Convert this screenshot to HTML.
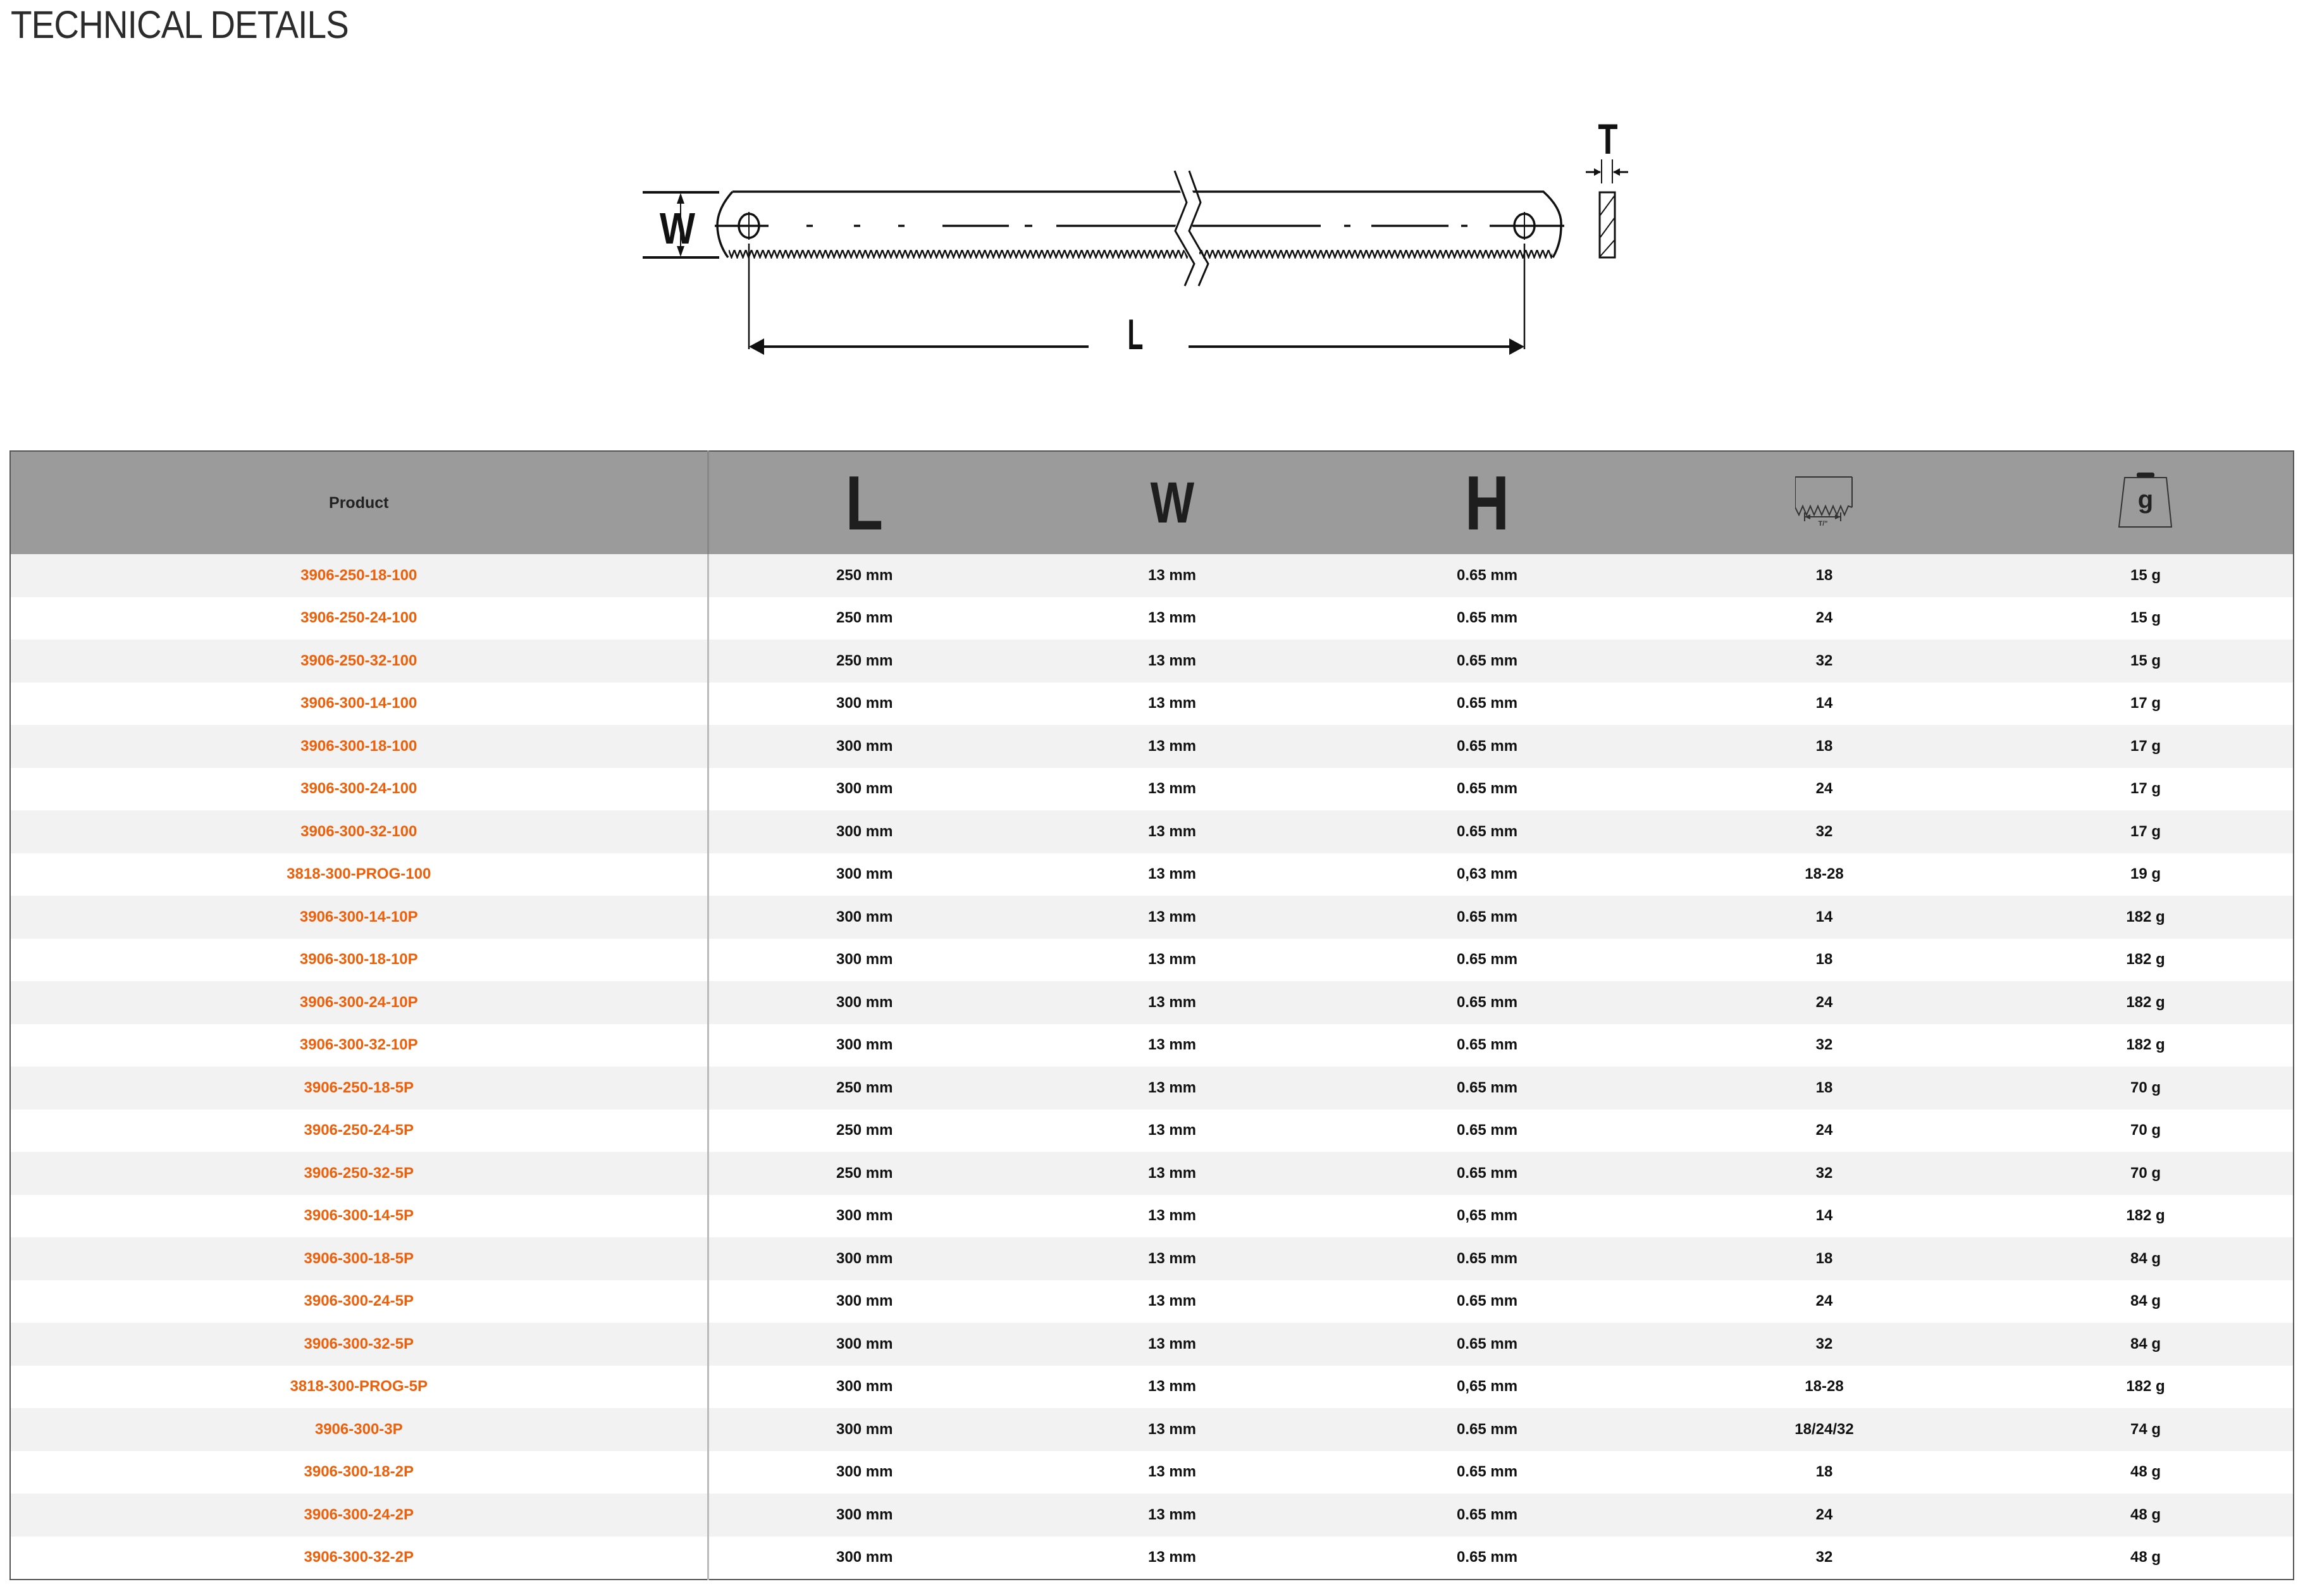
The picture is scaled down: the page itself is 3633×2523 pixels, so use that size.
<!DOCTYPE html>
<html><head><meta charset="utf-8">
<style>
html,body{margin:0;padding:0;background:#fff;}
body{width:3633px;height:2523px;position:relative;overflow:hidden;font-family:"Liberation Sans",Arial,sans-serif;}
#title{position:absolute;left:17px;top:4px;font-size:61px;color:#2b2b2b;font-weight:normal;transform:scaleX(0.9);transform-origin:0 0;white-space:nowrap;letter-spacing:-1px;}
#dr{position:absolute;left:0;top:0;}
table{position:absolute;left:15px;top:712px;width:3610px;border-collapse:collapse;table-layout:fixed;border:2px solid #555;}
td,th{padding:0;text-align:center;font-weight:bold;font-size:24px;color:#111;height:67.5px;}
th{background:#9b9b9b;height:162px;font-size:25px;color:#222;}
tr:nth-child(even) td{background:#f2f2f2;}
td.p{color:#ee5f0a;border-right:3px solid #bbb;}
th.p{border-right:3px solid #888;}
.big{font-size:122px;color:#1e1e1e;display:inline-block;transform:scaleX(0.8);line-height:1;}
</style></head><body>
<div id="title">TECHNICAL DETAILS</div>
<svg id="dr" width="3633" height="700" viewBox="0 0 3633 700">
<defs>
<pattern id="teeth" x="0" y="395" width="9" height="14" patternUnits="userSpaceOnUse">
<polyline points="0,0 4.5,12 9,0" fill="none" stroke="#111" stroke-width="2.5"/>
</pattern>
</defs>
<g stroke="#111" fill="none" stroke-width="3.5">
<line x1="1016" y1="304" x2="1137" y2="304" stroke-width="4"/>
<line x1="1016" y1="407" x2="1137" y2="407" stroke-width="4"/>
<line x1="1076" y1="308" x2="1076" y2="403" stroke-width="2"/>
<path d="M1158,303 L2440,303 Q2470,330 2468,357 Q2468,385 2455,407 M1151,407 Q1135,385 1134,357 Q1134,330 1158,303" />
<g stroke-width="3.5">
<line x1="1130" y1="357" x2="1215" y2="357"/>
<line x1="1275" y1="357" x2="1285" y2="357"/>
<line x1="1350" y1="357" x2="1360" y2="357"/>
<line x1="1420" y1="357" x2="1430" y2="357"/>
<line x1="1490" y1="357" x2="1595" y2="357"/>
<line x1="1620" y1="357" x2="1632" y2="357"/>
<line x1="1670" y1="357" x2="1870" y2="357"/>
<line x1="1885" y1="357" x2="2088" y2="357"/>
<line x1="2125" y1="357" x2="2135" y2="357"/>
<line x1="2168" y1="357" x2="2290" y2="357"/>
<line x1="2310" y1="357" x2="2320" y2="357"/>
<line x1="2355" y1="357" x2="2473" y2="357"/>
</g>
<ellipse cx="1184" cy="357" rx="16" ry="19"/>
<ellipse cx="2410" cy="357" rx="16" ry="19"/>
<line x1="1184" y1="335" x2="1184" y2="379" stroke-width="2"/>
<line x1="2410" y1="335" x2="2410" y2="379" stroke-width="2"/>
<line x1="1184" y1="385" x2="1184" y2="552" stroke-width="2.5"/>
<line x1="2410" y1="385" x2="2410" y2="552" stroke-width="2.5"/>
<line x1="1195" y1="548" x2="1721" y2="548" stroke-width="4"/>
<line x1="1879" y1="548" x2="2398" y2="548" stroke-width="4"/>
</g>
<rect x="1152" y="395" width="1302" height="14" fill="url(#teeth)"/>
<path d="M1862,270 L1883,320 L1865,365 L1895,417 L1880,452" stroke="#fff" stroke-width="18" fill="none"/>
<path d="M1857,270 L1876,320 L1858,365 L1888,417 L1873,452" stroke="#111" stroke-width="3" fill="none"/>
<path d="M1880,270 L1898,320 L1880,365 L1910,417 L1895,452" stroke="#111" stroke-width="3" fill="none"/>
<polygon points="1184,548 1208,535 1208,561" fill="#111"/>
<polygon points="2410,548 2386,535 2386,561" fill="#111"/>
<polygon points="1076,305 1070,322 1082,322" fill="#111"/>
<polygon points="1076,406 1070,389 1082,389" fill="#111"/>
<text x="1071" y="385" font-family="Liberation Sans" font-weight="bold" font-size="70" text-anchor="middle" fill="#111" transform="translate(1071 0) scale(0.85 1) translate(-1071 0)">W</text>
<text x="1795" y="552" font-family="Liberation Sans" font-weight="bold" font-size="68" text-anchor="middle" fill="#111" transform="translate(1795 0) scale(0.6 1) translate(-1795 0)">L</text>
<text x="2542" y="243" font-family="Liberation Sans" font-weight="bold" font-size="68" text-anchor="middle" fill="#111" transform="translate(2542 0) scale(0.75 1) translate(-2542 0)">T</text>
<line x1="2532" y1="252" x2="2532" y2="290" stroke="#111" stroke-width="2"/>
<line x1="2549" y1="252" x2="2549" y2="290" stroke="#111" stroke-width="2"/>
<line x1="2507" y1="272" x2="2530" y2="272" stroke="#111" stroke-width="3"/>
<line x1="2551" y1="272" x2="2574" y2="272" stroke="#111" stroke-width="3"/>
<polygon points="2531,272 2520,266 2520,278" fill="#111"/>
<polygon points="2550,272 2561,266 2561,278" fill="#111"/>
<rect x="2529" y="304" width="24" height="103" fill="none" stroke="#111" stroke-width="3"/>
<path d="M2530,340 L2552,310 M2530,375 L2552,345 M2530,405 L2552,380" stroke="#111" stroke-width="2" fill="none"/>
</svg>

<table>
<colgroup><col style="width:1103px"><col style="width:494px"><col style="width:480px"><col style="width:516px"><col style="width:550px"><col style="width:467px"></colgroup>
<tr><th class="p">Product</th>
<th><span class="big">L</span></th>
<th><span class="big" style="font-size:92px">W</span></th>
<th><span class="big">H</span></th>
<th><svg width="92" height="80" viewBox="0 0 92 80"><g fill="none" stroke="#333" stroke-width="2"><line x1="0" y1="2" x2="90" y2="2"/><line x1="0" y1="2" x2="0" y2="50"/><line x1="90" y1="2" x2="90" y2="50"/><polyline points="0,50 6,62 12,48 18,62 24,48 30,62 36,48 42,62 48,48 54,62 60,48 66,62 72,48 78,62 84,48 90,50"/><line x1="15" y1="58" x2="15" y2="72"/><line x1="72" y1="58" x2="72" y2="72"/><line x1="15" y1="65" x2="72" y2="65"/></g><polygon points="15,65 24,61 24,69" fill="#333"/><polygon points="72,65 63,61 63,69" fill="#333"/><text x="44" y="79" font-size="11" fill="#333" text-anchor="middle" font-family="Liberation Sans">T/"</text></svg></th>
<th><svg width="90" height="90" viewBox="0 0 90 90"><rect x="31" y="0" width="28" height="8" rx="3" fill="#222"/><path d="M12,8 L78,8 L86,86 L3,86 Z" fill="none" stroke="#333" stroke-width="2"/><text x="45" y="56" font-size="40" font-weight="bold" fill="#222" text-anchor="middle" font-family="Liberation Sans">g</text></svg></th></tr>
<tr><td class="p">3906-250-18-100</td><td>250 mm</td><td>13 mm</td><td>0.65 mm</td><td>18</td><td>15 g</td></tr>
<tr><td class="p">3906-250-24-100</td><td>250 mm</td><td>13 mm</td><td>0.65 mm</td><td>24</td><td>15 g</td></tr>
<tr><td class="p">3906-250-32-100</td><td>250 mm</td><td>13 mm</td><td>0.65 mm</td><td>32</td><td>15 g</td></tr>
<tr><td class="p">3906-300-14-100</td><td>300 mm</td><td>13 mm</td><td>0.65 mm</td><td>14</td><td>17 g</td></tr>
<tr><td class="p">3906-300-18-100</td><td>300 mm</td><td>13 mm</td><td>0.65 mm</td><td>18</td><td>17 g</td></tr>
<tr><td class="p">3906-300-24-100</td><td>300 mm</td><td>13 mm</td><td>0.65 mm</td><td>24</td><td>17 g</td></tr>
<tr><td class="p">3906-300-32-100</td><td>300 mm</td><td>13 mm</td><td>0.65 mm</td><td>32</td><td>17 g</td></tr>
<tr><td class="p">3818-300-PROG-100</td><td>300 mm</td><td>13 mm</td><td>0,63 mm</td><td>18-28</td><td>19 g</td></tr>
<tr><td class="p">3906-300-14-10P</td><td>300 mm</td><td>13 mm</td><td>0.65 mm</td><td>14</td><td>182 g</td></tr>
<tr><td class="p">3906-300-18-10P</td><td>300 mm</td><td>13 mm</td><td>0.65 mm</td><td>18</td><td>182 g</td></tr>
<tr><td class="p">3906-300-24-10P</td><td>300 mm</td><td>13 mm</td><td>0.65 mm</td><td>24</td><td>182 g</td></tr>
<tr><td class="p">3906-300-32-10P</td><td>300 mm</td><td>13 mm</td><td>0.65 mm</td><td>32</td><td>182 g</td></tr>
<tr><td class="p">3906-250-18-5P</td><td>250 mm</td><td>13 mm</td><td>0.65 mm</td><td>18</td><td>70 g</td></tr>
<tr><td class="p">3906-250-24-5P</td><td>250 mm</td><td>13 mm</td><td>0.65 mm</td><td>24</td><td>70 g</td></tr>
<tr><td class="p">3906-250-32-5P</td><td>250 mm</td><td>13 mm</td><td>0.65 mm</td><td>32</td><td>70 g</td></tr>
<tr><td class="p">3906-300-14-5P</td><td>300 mm</td><td>13 mm</td><td>0,65 mm</td><td>14</td><td>182 g</td></tr>
<tr><td class="p">3906-300-18-5P</td><td>300 mm</td><td>13 mm</td><td>0.65 mm</td><td>18</td><td>84 g</td></tr>
<tr><td class="p">3906-300-24-5P</td><td>300 mm</td><td>13 mm</td><td>0.65 mm</td><td>24</td><td>84 g</td></tr>
<tr><td class="p">3906-300-32-5P</td><td>300 mm</td><td>13 mm</td><td>0.65 mm</td><td>32</td><td>84 g</td></tr>
<tr><td class="p">3818-300-PROG-5P</td><td>300 mm</td><td>13 mm</td><td>0,65 mm</td><td>18-28</td><td>182 g</td></tr>
<tr><td class="p">3906-300-3P</td><td>300 mm</td><td>13 mm</td><td>0.65 mm</td><td>18/24/32</td><td>74 g</td></tr>
<tr><td class="p">3906-300-18-2P</td><td>300 mm</td><td>13 mm</td><td>0.65 mm</td><td>18</td><td>48 g</td></tr>
<tr><td class="p">3906-300-24-2P</td><td>300 mm</td><td>13 mm</td><td>0.65 mm</td><td>24</td><td>48 g</td></tr>
<tr><td class="p">3906-300-32-2P</td><td>300 mm</td><td>13 mm</td><td>0.65 mm</td><td>32</td><td>48 g</td></tr>
</table>
</body></html>
